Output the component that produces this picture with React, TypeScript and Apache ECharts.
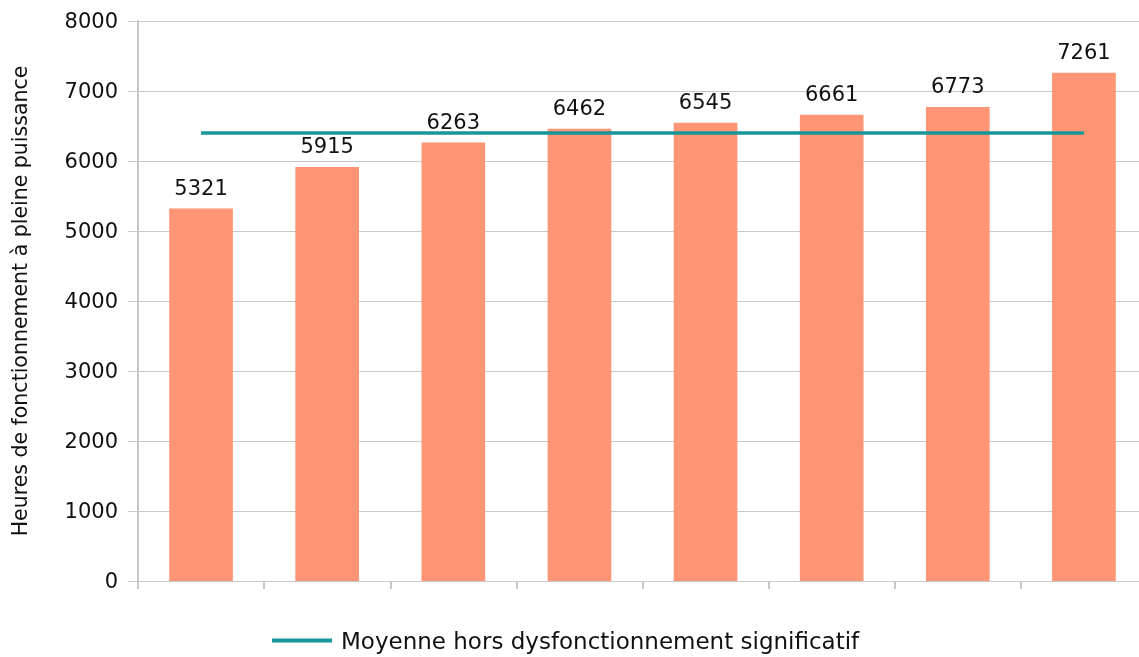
import React, { useEffect, useRef } from "react";
import * as echarts from "echarts";

const categories = ["1", "2", "3", "4", "5", "6", "7", "8"];
const hours = [5321, 5915, 6263, 6462, 6545, 6661, 6773, 7261];
const average = [6400, 6400, 6400, 6400, 6400, 6400, 6400, 6400];
const yTicks = { min: 0, max: 8000, interval: 1000 };
const avgName = "Moyenne hors dysfonctionnement significatif";
const yName = "Heures de fonctionnement à pleine puissance";

export default function App() {
  const ref = useRef<HTMLDivElement>(null);
  useEffect(() => {
    const chart = echarts.init(ref.current!, null, { renderer: "svg" });
    const font = "'DejaVu Sans', sans-serif";
    chart.setOption({
      animation: false,
      textStyle: { fontFamily: font },
      grid: {
        left: 138,
        right: 3,
        top: 21,
        bottom: 76,
        containLabel: false,
        outerBoundsMode: "none",
      },
      legend: {
        data: [{ name: avgName, icon: "rect" }],
        bottom: 0,
        left: 267,
        itemWidth: 60,
        itemHeight: 4,
        itemGap: 10,
        textStyle: {
          fontSize: 23,
          color: "#111",
          fontFamily: font,
          padding: [0, 0, 0, 4],
        },
      },
      xAxis: {
        type: "category",
        data: categories,
        axisLabel: { show: false },
        axisLine: { show: true, lineStyle: { color: "#c8c8c8", width: 1 } },
        axisTick: { show: true, length: 8, lineStyle: { color: "#c8c8c8", width: 2 } },
      },
      yAxis: {
        type: "value",
        min: yTicks.min,
        max: yTicks.max,
        interval: yTicks.interval,
        name: yName,
        nameLocation: "middle",
        nameGap: 108,
        nameTextStyle: { fontSize: 20.5, color: "#111", fontFamily: font },
        axisLine: { show: true, lineStyle: { color: "#c8c8c8", width: 2 } },
        axisTick: { show: true, length: 10, lineStyle: { color: "#c8c8c8" } },
        axisLabel: {
          fontSize: 21,
          color: "#111",
          margin: 20,
          formatter: (v: number) => String(v),
        },
        splitLine: { lineStyle: { color: "#c8c8c8", width: 1 } },
      },
      series: [
        {
          type: "bar",
          data: hours,
          barWidth: "50.5%",
          itemStyle: { color: "#FF9574" },
          label: {
            show: true,
            position: "top",
            distance: 10,
            fontSize: 21,
            color: "#111",
          },
        },
        {
          type: "line",
          name: avgName,
          data: average,
          showSymbol: false,
          symbol: "none",
          lineStyle: { color: "#17969A", width: 3.5 },
          itemStyle: { color: "#17969A" },
        },
      ],
    });
    return () => chart.dispose();
  }, []);
  return (
    <div
      ref={ref}
      style={{ position: "fixed", left: 0, top: 0, width: 1150, height: 657 }}
    />
  );
}
